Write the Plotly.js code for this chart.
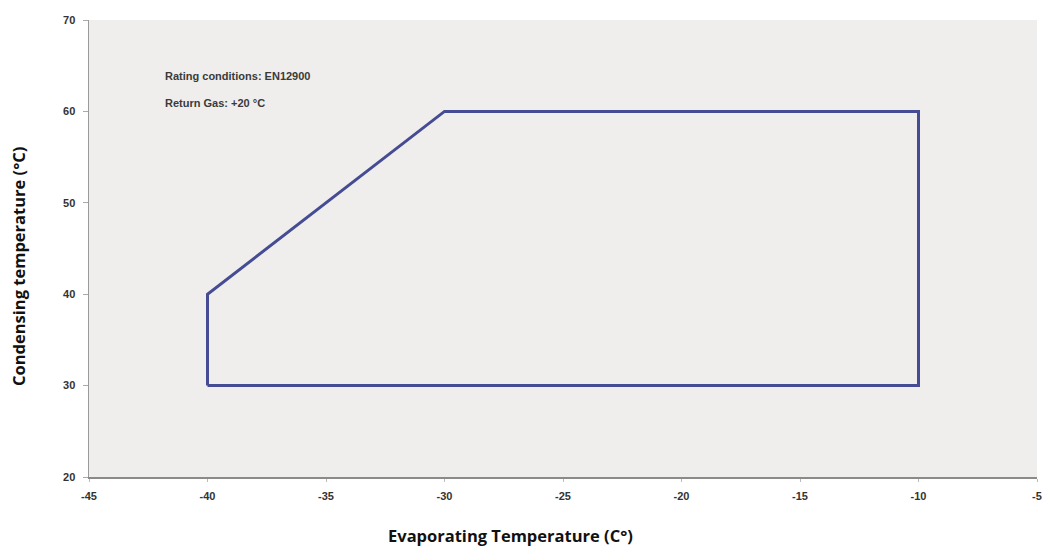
<!DOCTYPE html>
<html>
<head>
<meta charset="utf-8">
<script src="https://cdn.plot.ly/plotly-3.0.1.min.js"></script>
<style>html,body{margin:0;padding:0;background:#fff;}#chart{width:1046px;height:547px;}</style>
</head>
<body>
<div id="chart"></div>
<script>
// Operating envelope (evaporating temp, condensing temp)
const evapTemp = [-40, -40, -30, -10, -10, -40];
const condTemp = [30, 40, 60, 60, 30, 30];
const xTicks = [-45, -40, -35, -30, -25, -20, -15, -10, -5];
const yTicks = [20, 30, 40, 50, 60, 70];
const notes = ["Rating conditions: EN12900", "Return Gas: +20 °C"];
const xTitle = "Evaporating Temperature (C°)";
const yTitle = "Condensing temperature (°C)";

const trace = {
  x: evapTemp, y: condTemp, mode: 'lines', type: 'scatter',
  line: {color: '#464c94', width: 3}, hoverinfo: 'skip', showlegend: false
};

const tickFont = {size: 11, color: '#333', family: 'Liberation Sans Narrow, Liberation Sans, Arial, sans-serif', weight: 'bold'};
const noteFont = {size: 11, color: '#3a3a3a', family: 'Liberation Sans, Arial, sans-serif', weight: 'bold'};
const titleFont = {size: 16.5, color: '#111', family: 'Open Sans, sans-serif', weight: 'bold'};

const layout = {
  width: 1046, height: 547,
  margin: {l: 89, r: 9, t: 20, b: 70},
  paper_bgcolor: '#ffffff',
  plot_bgcolor: '#efeeec',
  font: {family: 'Liberation Sans, Arial, sans-serif', color: '#333'},
  xaxis: {
    range: [-45, -5], tickvals: xTicks, ticktext: xTicks.map(String),
    showgrid: false, zeroline: false, showline: true, linecolor: '#8a8a8a', linewidth: 1.5,
    ticks: 'outside', ticklen: 3, tickcolor: '#bbb', ticklabelstandoff: 5,
    tickfont: tickFont
  },
  yaxis: {
    range: [20, 70], tickvals: yTicks, ticktext: yTicks.map(String),
    showgrid: false, zeroline: false, showline: true, linecolor: '#9a9a9a', linewidth: 1.5,
    ticks: 'outside', ticklen: 5, tickcolor: '#aaa', ticklabelstandoff: 5,
    tickfont: tickFont
  },
  annotations: [
    {x: 0.078, y: 0.878, xref: 'paper', yref: 'paper', xanchor: 'left', yanchor: 'middle',
     text: notes[0], showarrow: false, font: noteFont},
    {x: 0.078, y: 0.818, xref: 'paper', yref: 'paper', xanchor: 'left', yanchor: 'middle',
     text: notes[1], showarrow: false, font: noteFont},
    {x: 510 / 1046, y: 1 - 535 / 547, xref: 'paper', yref: 'paper', xanchor: 'center', yanchor: 'middle',
     text: xTitle, showarrow: false, font: titleFont},
    {x: 18 / 1046, y: 1 - 267 / 547, xref: 'paper', yref: 'paper', xanchor: 'center', yanchor: 'middle',
     textangle: -90, text: yTitle, showarrow: false, font: titleFont}
  ]
};
// convert title positions from full-figure fractions to plot-area paper coords
layout.annotations.slice(2).forEach(a => {
  a.x = (a.x * 1046 - 89) / (1046 - 89 - 9);
  a.y = (a.y * 547 - 70) / (547 - 20 - 70);
});

Plotly.newPlot('chart', [trace], layout, {displayModeBar: false, staticPlot: true});
</script>
</body>
</html>
